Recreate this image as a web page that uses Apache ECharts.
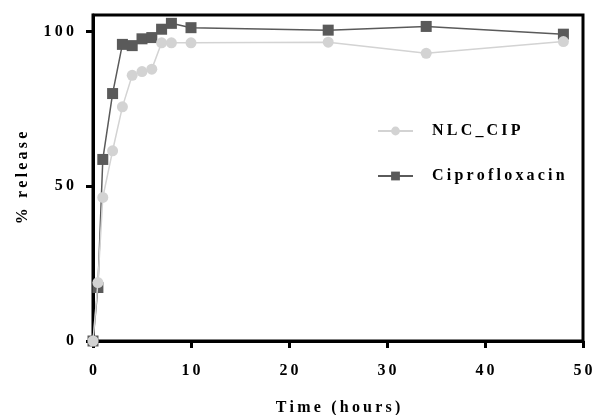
<!DOCTYPE html>
<html>
<head>
<meta charset="utf-8">
<script src="https://cdn.jsdelivr.net/npm/echarts@6/dist/echarts.min.js"></script>
<style>
  html, body { margin: 0; padding: 0; background: #fff; }
  #app { width: 592px; height: 415px; }
</style>
</head>
<body>
<div id="app"></div>
<script>
// time points (hours)
const hours = [0, 0.5, 1, 2, 3, 4, 5, 6, 7, 8, 10, 24, 34, 48]
// % release
const nlcCip = [0, 18.9, 46.4, 61.5, 75.7, 85.9, 87.1, 87.9, 96.4, 96.4, 96.4, 96.6, 93.0, 96.8]
const cipro = [0, 17.3, 58.7, 80.0, 95.9, 95.5, 97.7, 98.1, 100.8, 102.7, 101.3, 100.5, 101.7, 99.2]
const xTicks = [0, 10, 20, 30, 40, 50]
const yTicks = [0, 50, 100]

const font = 'Liberation Serif'
const pairs = (xs, ys) => xs.map((x, i) => [x, ys[i]])
// the original uses wide letter spacing, imitate it with thin spaces
const spaced = s => String(s).split('').join('\u2009')
const txt = { fontFamily: font, fontWeight: 'bold', fontSize: 16, color: '#000' }

const chart = echarts.init(document.getElementById('app'), null, { renderer: 'canvas' })
chart.setOption({
  animation: false,
  backgroundColor: '#fff',
  grid: {
    left: 93, right: 9, top: 15, bottom: 74,
    outerBoundsMode: 'none',
    show: true, borderColor: '#000', borderWidth: 3
  },
  legend: {
    orient: 'vertical',
    left: 372, top: 118,
    itemGap: 29,
    itemWidth: 35, itemHeight: 11,
    data: ['NLC_CIP', 'Ciprofloxacin'],
    formatter: name => spaced(name),
    textStyle: Object.assign({}, txt, { padding: [0, 0, 0, 14] })
  },
  xAxis: {
    type: 'value', min: 0, max: 50, interval: 10,
    name: spaced('Time (hours)'), nameLocation: 'middle', nameGap: 59,
    nameTextStyle: txt,
    splitLine: { show: false },
    axisLine: { lineStyle: { color: '#000', width: 3 } },
    axisTick: { length: 7, lineStyle: { color: '#000', width: 3 }, customValues: xTicks },
    axisLabel: Object.assign({ customValues: xTicks, margin: 22, formatter: v => spaced(v) }, txt)
  },
  yAxis: {
    type: 'value', min: 0, max: 105.4,
    name: spaced('% release'), nameLocation: 'middle', nameGap: 62,
    nameTextStyle: txt,
    splitLine: { show: false },
    axisLine: { lineStyle: { color: '#000', width: 3 } },
    axisTick: { length: 7, lineStyle: { color: '#000', width: 3 }, customValues: yTicks },
    axisLabel: Object.assign({ customValues: yTicks, margin: 19, formatter: v => spaced(v) }, txt)
  },
  series: [
    {
      name: 'Ciprofloxacin', type: 'line', z: 2,
      data: pairs(hours, cipro),
      symbol: 'rect', symbolSize: 11,
      itemStyle: { color: '#5a5a5a' },
      lineStyle: { color: '#5a5a5a', width: 1.5 }
    },
    {
      name: 'NLC_CIP', type: 'line', z: 3,
      data: pairs(hours, nlcCip),
      symbol: 'circle', symbolSize: 11,
      itemStyle: { color: '#d3d3d3' },
      lineStyle: { color: '#d3d3d3', width: 1.5 }
    }
  ]
})
</script>
</body>
</html>
